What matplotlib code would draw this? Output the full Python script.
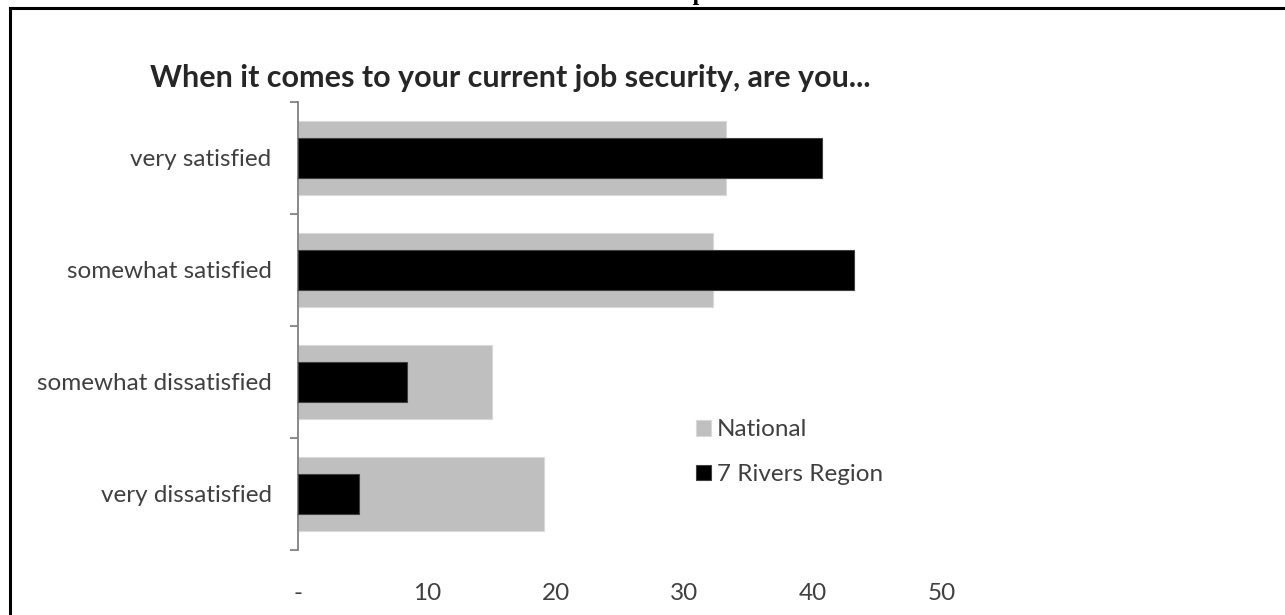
import numpy as np
import matplotlib
matplotlib.use("Agg")
import matplotlib.pyplot as plt

plt.rcParams['font.family'] = ['Lato', 'DejaVu Sans']

# Datos
categorias = ['very satisfied', 'somewhat satisfied', 'somewhat dissatisfied', 'very dissatisfied']
nacional = [33.2, 32.2, 15.1, 19.1]
region = [40.7, 43.2, 8.5, 4.7]
xticks = [0, 10, 20, 30, 40, 50]
xtick_labels = ['-', '10', '20', '30', '40', '50']

texto = '#404040'
gris = '#bfbfbf'

fig = plt.figure(figsize=(12.85, 6.15), dpi=100)
ax = fig.add_axes([298 / 1285, 65 / 615, 644 / 1285, 448 / 615])

y = np.arange(len(categorias))
ax.barh(y, nacional, height=0.66, color=gris, edgecolor='#d9d9d9', linewidth=0.8, label='National', zorder=2)
ax.barh(y, region, height=0.357, color='black', edgecolor='#404040', linewidth=0.8, label='7 Rivers Region', zorder=3)

ax.set_xlim(0, 50)
ax.set_ylim(len(categorias) - 0.5, -0.5)

# ejes
for lado in ['top', 'right', 'bottom']:
    ax.spines[lado].set_visible(False)
ax.spines['left'].set_color('#808080')
ax.spines['left'].set_linewidth(1.3)

ax.set_yticks(y)
ax.set_yticklabels(categorias, fontsize=17.5, color=texto)
ax.tick_params(axis='y', which='major', length=0, pad=19)
ax.set_yticks(np.arange(-0.5, len(categorias)), minor=True)
ax.tick_params(axis='y', which='minor', length=6, width=1.3, color='#808080', direction='out')

ax.set_xticks(xticks)
ax.set_xticklabels(xtick_labels, fontsize=17.5, color=texto)
ax.tick_params(axis='x', length=0, pad=24)

ax.legend(loc='upper left', bbox_to_anchor=(0.618, 0.292), frameon=False, fontsize=17.5,
          labelcolor=texto, handlelength=0.62, handleheight=0.62, handletextpad=0.25,
          labelspacing=0.98, borderaxespad=0, borderpad=0)

# título
fig.text(150 / 1285, 1 - 87 / 615, 'When it comes to your current job security, are you...',
         fontsize=22, fontweight='bold', color='#262626', va='baseline', ha='left')

# texto cortado arriba
fig.text(0.54, 1.0, 'Graph 6', family='Liberation Serif', fontweight='bold', fontsize=17,
         ha='center', va='baseline', color='black')

# marco
fig.add_artist(plt.Line2D([10 / 1285, 10 / 1285], [0, 1 - 8 / 615], color='black', lw=2.2))
fig.add_artist(plt.Line2D([10 / 1285, 1.0], [1 - 8 / 615, 1 - 8 / 615], color='black', lw=2.2))

fig.savefig('out.png', dpi=100)
